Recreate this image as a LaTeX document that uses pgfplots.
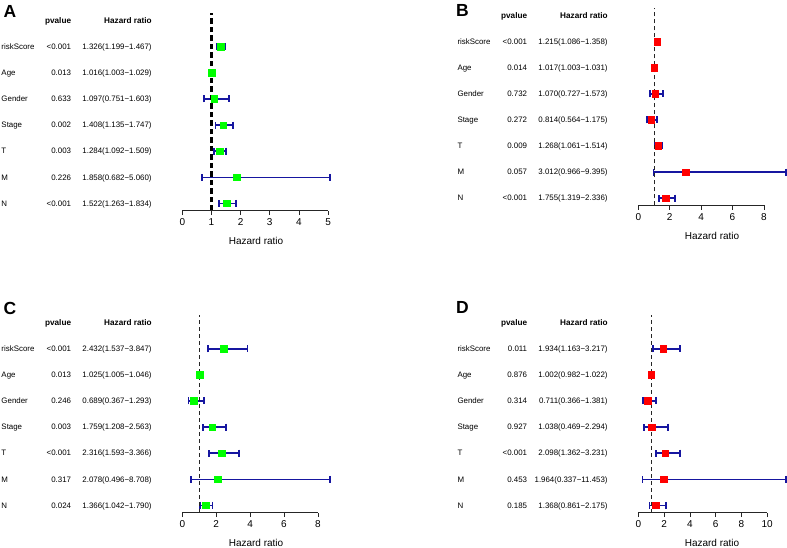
\documentclass[border=0pt]{standalone}
\usepackage{pgfplots}
\usepackage{pgfplotstable}
\pgfplotsset{compat=1.18}
\usepackage{fontspec}
\setmainfont{Liberation Sans}
\definecolor{boxgreen}{RGB}{0,255,0}
\definecolor{boxred}{RGB}{255,0,0}
\definecolor{barblue}{RGB}{22,22,160}

\pgfplotstableread{
y hr lo hi
7 1.326 1.199 1.467
6 1.016 1.003 1.029
5 1.097 0.751 1.603
4 1.408 1.135 1.747
3 1.284 1.092 1.509
2 1.858 0.682 5.060
1 1.522 1.263 1.834
}\tabA
\pgfplotstableread{
y hr lo hi
7 1.215 1.086 1.358
6 1.017 1.003 1.031
5 1.070 0.727 1.573
4 0.814 0.564 1.175
3 1.268 1.061 1.514
2 3.012 0.966 9.395
1 1.755 1.319 2.336
}\tabB
\pgfplotstableread{
y hr lo hi
7 2.432 1.537 3.847
6 1.025 1.005 1.046
5 0.689 0.367 1.293
4 1.759 1.208 2.563
3 2.316 1.593 3.366
2 2.078 0.496 8.708
1 1.366 1.042 1.790
}\tabC
\pgfplotstableread{
y hr lo hi
7 1.934 1.163 3.217
6 1.002 0.982 1.022
5 0.711 0.366 1.381
4 1.038 0.469 2.294
3 2.098 1.362 3.231
2 1.964 0.337 11.453
1 1.368 0.861 2.175
}\tabD

\newcommand\rowfont{\fontsize{7.9}{9}\selectfont}
\newcommand\hdfont{\bfseries\fontsize{8.2}{9}\selectfont}
\newcommand\row[4]{%
  \node[anchor=base west,inner sep=0,font=\rowfont] at ([xshift=-181pt,yshift=-2.8pt]axis cs:0,#1) {#2};
  \node[anchor=base east,inner sep=0,font=\rowfont] at ([xshift=-111pt,yshift=-2.8pt]axis cs:0,#1) {#3};
  \node[anchor=base east,inner sep=0,font=\rowfont] at ([xshift=-30.5pt,yshift=-2.8pt]axis cs:0,#1) {#4};
}
\newcommand\header{%
  \node[anchor=base east,inner sep=0,font=\hdfont] at ([xshift=-111pt,yshift=-2.9pt]axis cs:0,8) {pvalue};
  \node[anchor=base east,inner sep=0,font=\hdfont] at ([xshift=-30.5pt,yshift=-2.9pt]axis cs:0,8) {Hazard ratio};
}

\pgfplotsset{
  forest/.style={
    scale only axis, width=147.5pt, height=197.3pt,
    anchor=south west,
    ymin=0.72, ymax=8.28,
    xmin=0,
    axis x line*=bottom,
    axis y line=none,
    x axis line style={draw=none},
    xtick align=outside,
    major tick length=4.5pt,
    every tick/.style={black!85, line width=0.6pt},
    ytick=\empty,
    clip=false,
    /pgf/number format/assume math mode=true,
    ticklabel style={font=\fontsize{10}{12}\selectfont},
    xlabel={Hazard ratio},
    xlabel style={font=\fontsize{10}{12}\selectfont, at={(axis description cs:0.5,0)}, anchor=center, yshift=-30pt},
  },
  ebars/.style={only marks, mark=none, barblue, forget plot,
    error bars/.cd, x dir=both, x explicit, error mark=|,
    error bar style={draw=barblue, line width=1.5pt},
    error mark options={draw=barblue, line width=1.7pt, mark size=3.5pt}},
}

\begin{document}
\begin{tikzpicture}
% ---------------- A ----------------
\begin{axis}[forest, at={(182.3pt,337.3pt)}, xmax=5.06, xtick={0,1,2,3,4,5}]
\addplot[ebars] table[x=hr, y=y, x error plus expr=\thisrow{hi}-\thisrow{hr}, x error minus expr=\thisrow{hr}-\thisrow{lo}] {\tabA};
\addplot[black, line width=2.2pt, dash pattern=on 5.5pt off 3pt] coordinates {(1,0.72) (1,8.28)};
\addplot[only marks, mark=square*, mark size=3.3pt, mark options={draw=boxgreen, fill=boxgreen}] table[x=hr, y=y] {\tabA};
\draw[black!85, line width=0.6pt] (axis cs:0,0.72) -- (axis cs:5,0.72);
\header
\row{7}{riskScore}{<0.001}{1.326(1.199−1.467)}
\row{6}{Age}{0.013}{1.016(1.003−1.029)}
\row{5}{Gender}{0.633}{1.097(0.751−1.603)}
\row{4}{Stage}{0.002}{1.408(1.135−1.747)}
\row{3}{T}{0.003}{1.284(1.092−1.509)}
\row{2}{M}{0.226}{1.858(0.682−5.060)}
\row{1}{N}{<0.001}{1.522(1.263−1.834)}
\end{axis}
% ---------------- B ----------------
\begin{axis}[forest, at={(638.3pt,342.5pt)}, xmax=9.395, xtick={0,2,4,6,8}]
\addplot[ebars] table[x=hr, y=y, x error plus expr=\thisrow{hi}-\thisrow{hr}, x error minus expr=\thisrow{hr}-\thisrow{lo}] {\tabB};
\addplot[black!85, line width=0.8pt, dash pattern=on 4pt off 3pt] coordinates {(1,0.72) (1,8.28)};
\addplot[only marks, mark=square*, mark size=3.3pt, mark options={draw=boxred, fill=boxred}] table[x=hr, y=y] {\tabB};
\draw[black!85, line width=0.6pt] (axis cs:0,0.72) -- (axis cs:8,0.72);
\header
\row{7}{riskScore}{<0.001}{1.215(1.086−1.358)}
\row{6}{Age}{0.014}{1.017(1.003−1.031)}
\row{5}{Gender}{0.732}{1.070(0.727−1.573)}
\row{4}{Stage}{0.272}{0.814(0.564−1.175)}
\row{3}{T}{0.009}{1.268(1.061−1.514)}
\row{2}{M}{0.057}{3.012(0.966−9.395)}
\row{1}{N}{<0.001}{1.755(1.319−2.336)}
\end{axis}
% ---------------- C ----------------
\begin{axis}[forest, at={(182.3pt,35.3pt)}, xmax=8.708, xtick={0,2,4,6,8}]
\addplot[ebars] table[x=hr, y=y, x error plus expr=\thisrow{hi}-\thisrow{hr}, x error minus expr=\thisrow{hr}-\thisrow{lo}] {\tabC};
\addplot[black!85, line width=0.8pt, dash pattern=on 4pt off 3pt] coordinates {(1,0.72) (1,8.28)};
\addplot[only marks, mark=square*, mark size=3.3pt, mark options={draw=boxgreen, fill=boxgreen}] table[x=hr, y=y] {\tabC};
\draw[black!85, line width=0.6pt] (axis cs:0,0.72) -- (axis cs:8,0.72);
\header
\row{7}{riskScore}{<0.001}{2.432(1.537−3.847)}
\row{6}{Age}{0.013}{1.025(1.005−1.046)}
\row{5}{Gender}{0.246}{0.689(0.367−1.293)}
\row{4}{Stage}{0.003}{1.759(1.208−2.563)}
\row{3}{T}{<0.001}{2.316(1.593−3.366)}
\row{2}{M}{0.317}{2.078(0.496−8.708)}
\row{1}{N}{0.024}{1.366(1.042−1.790)}
\end{axis}
% ---------------- D ----------------
\begin{axis}[forest, at={(638.3pt,35.3pt)}, xmax=11.453, xtick={0,2,4,6,8,10}]
\addplot[ebars] table[x=hr, y=y, x error plus expr=\thisrow{hi}-\thisrow{hr}, x error minus expr=\thisrow{hr}-\thisrow{lo}] {\tabD};
\addplot[black!85, line width=0.8pt, dash pattern=on 4pt off 3pt] coordinates {(1,0.72) (1,8.28)};
\addplot[only marks, mark=square*, mark size=3.3pt, mark options={draw=boxred, fill=boxred}] table[x=hr, y=y] {\tabD};
\draw[black!85, line width=0.6pt] (axis cs:0,0.72) -- (axis cs:10,0.72);
\header
\row{7}{riskScore}{0.011}{1.934(1.163−3.217)}
\row{6}{Age}{0.876}{1.002(0.982−1.022)}
\row{5}{Gender}{0.314}{0.711(0.366−1.381)}
\row{4}{Stage}{0.927}{1.038(0.469−2.294)}
\row{3}{T}{<0.001}{2.098(1.362−3.231)}
\row{2}{M}{0.453}{1.964(0.337−11.453)}
\row{1}{N}{0.185}{1.368(0.861−2.175)}
\end{axis}
% panel letters
\node[anchor=base west, inner sep=0, font=\bfseries\fontsize{17.5}{20}\selectfont] at (3.5pt,530pt) {A};
\node[anchor=base west, inner sep=0, font=\bfseries\fontsize{17.5}{20}\selectfont] at (456pt,531pt) {B};
\node[anchor=base west, inner sep=0, font=\bfseries\fontsize{17.5}{20}\selectfont] at (3.5pt,233.5pt) {C};
\node[anchor=base west, inner sep=0, font=\bfseries\fontsize{17.5}{20}\selectfont] at (456pt,234pt) {D};
\pgfresetboundingbox
\useasboundingbox (0,0) rectangle (787pt,548pt);
\end{tikzpicture}
\end{document}
